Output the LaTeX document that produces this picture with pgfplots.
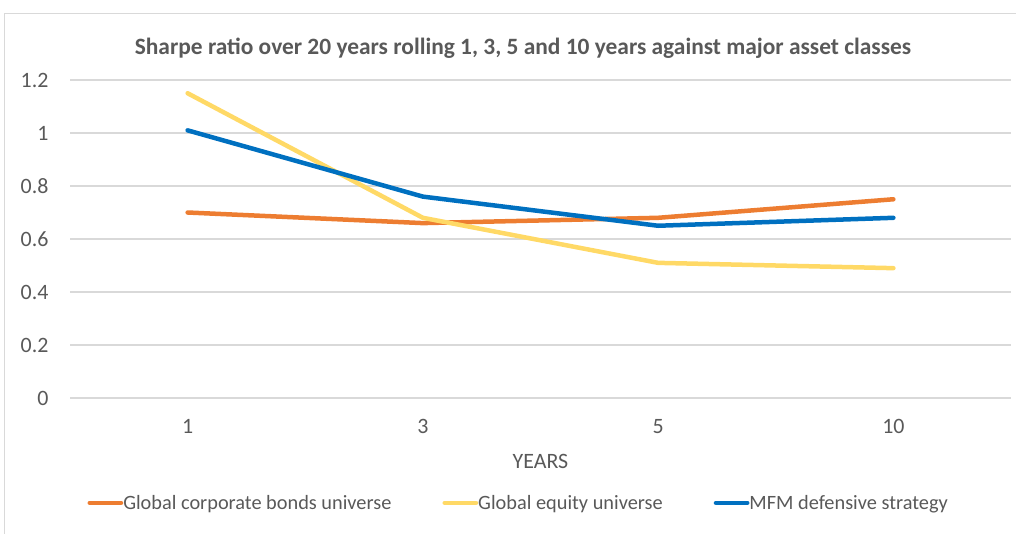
\documentclass[border=0pt]{standalone}
\usepackage{pgfplots}
\pgfplotsset{compat=1.18}
\usepackage{fontspec}
\setmainfont{Carlito}

\definecolor{bondorange}{HTML}{ED7D31}
\definecolor{equityyellow}{HTML}{FFD966}
\definecolor{mfmblue}{HTML}{0070C0}
\definecolor{gridgray}{HTML}{D9D9D9}
\definecolor{textgray}{HTML}{595959}

\begin{document}
\begin{tikzpicture}
\useasboundingbox (0bp,0bp) rectangle (1016bp,-534bp);
% chart frame
\draw[gridgray, line width=1.2bp] (4.5bp,-534bp) -- (4.5bp,-13.5bp) -- (1016bp,-13.5bp);
% title
\node[font=\fontsize{23.5}{27}\selectfont\bfseries, text=textgray] at (523bp,-48bp)
  {Sharpe ratio over 20 years rolling 1, 3, 5 and 10 years against major asset classes};
\begin{axis}[
  at={(70bp,-398bp)}, anchor=south west,
  scale only axis, width=941bp, height=318bp,
  xmin=-0.5, xmax=3.5, ymin=0, ymax=1.2,
  xtick={0,1,2,3}, xticklabels={1,3,5,10},
  ytick={0,0.2,0.4,0.6,0.8,1,1.2},
  yticklabels={0,0.2,0.4,0.6,0.8,1,1.2},
  axis line style={draw=none},
  major tick length=0pt,
  tick style={draw=none},
  ymajorgrids,
  grid style={gridgray, line width=1.2bp},
  ticklabel style={font=\fontsize{22}{26}\selectfont, text=textgray},
  yticklabel style={anchor=east, xshift=-18bp},
  xticklabel style={anchor=north, yshift=-18bp},
  xlabel={YEARS},
  xlabel style={font=\fontsize{22}{26}\selectfont, text=textgray, anchor=center, at={(axis description cs:0.5,-0.2)}},
  legend columns=3,
  legend style={draw=none, fill=none, at={(axis description cs:0.0186,-0.330)}, anchor=west,
    inner sep=0pt, outer sep=0pt, font=\fontsize{20.4}{24}\selectfont, text=textgray,
    nodes={inner sep=0pt},
    /tikz/every even column/.append style={column sep=51bp}},
  legend cell align=left,
  legend image code/.code={\draw[#1, line width=4.5bp, line cap=round] (2.25bp,0bp) -- (33.5bp,0bp);},
  every axis plot/.append style={line width=4.5bp, line cap=round, line join=round},
  clip=false,
]
\addplot[bondorange] coordinates {(0,0.70) (1,0.66) (2,0.68) (3,0.75)};
\addlegendentry{Global corporate bonds universe}
\addplot[equityyellow] coordinates {(0,1.15) (1,0.68) (2,0.51) (3,0.49)};
\addlegendentry{Global equity universe}
\addplot[mfmblue] coordinates {(0,1.01) (1,0.76) (2,0.65) (3,0.68)};
\addlegendentry{MFM defensive strategy}
\end{axis}
\end{tikzpicture}
\end{document}
